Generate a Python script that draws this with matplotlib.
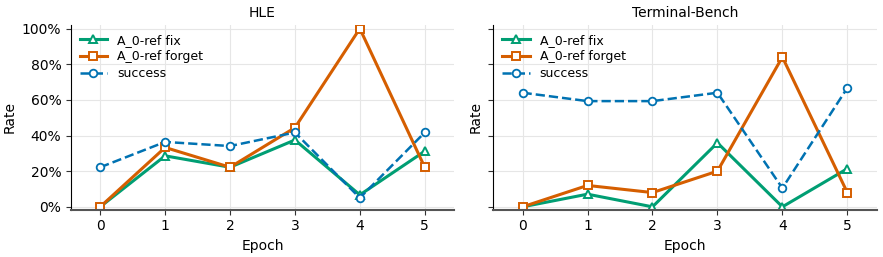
import matplotlib
matplotlib.use("Agg")
import matplotlib.pyplot as plt
from matplotlib.ticker import PercentFormatter

epochs = [0, 1, 2, 3, 4, 5]

hle_fix = [0.0, 28.6, 22.2, 37.5, 6.7, 31.2]
hle_forget = [0.0, 33.3, 22.2, 44.4, 100.0, 22.2]
hle_success = [22.2, 36.4, 34.1, 41.7, 5.0, 41.7]

tb_fix = [0.0, 7.1, 0.0, 35.9, 0.0, 21.4]
tb_forget = [0.0, 12.0, 8.0, 20.0, 84.0, 8.0]
tb_success = [64.0, 59.3, 59.3, 64.0, 10.5, 66.7]

titles = ["HLE", "Terminal-Bench"]
green = "#009E73"
orange = "#D55E00"
blue = "#0072B2"

plt.rcParams['font.family'] = 'DejaVu Sans'
fig = plt.figure(figsize=(8.83, 2.57), dpi=100)
ax1 = fig.add_axes([0.0804, 0.1848, 0.4337, 0.718])
ax2 = fig.add_axes([0.5587, 0.1848, 0.4340, 0.718], sharey=ax1)

panels = [(ax1, hle_fix, hle_forget, hle_success),
          (ax2, tb_fix, tb_forget, tb_success)]

for i, (ax, fix, forget, success) in enumerate(panels):
    ax.plot(epochs, [v / 100 for v in fix], color=green, lw=2.2, marker='^',
            ms=6, mfc='white', mew=1.4, label='A_0-ref fix')
    ax.plot(epochs, [v / 100 for v in forget], color=orange, lw=2.2, marker='s',
            ms=6, mfc='white', mew=1.4, label='A_0-ref forget')
    ax.plot(epochs, [v / 100 for v in success], color=blue, lw=1.8, ls='--',
            marker='o', ms=5.5, mfc='white', mew=1.3, label='success')
    ax.set_title(titles[i], fontsize=10)
    ax.set_xlabel('Epoch', fontsize=10)
    ax.set_ylabel('Rate', fontsize=10)
    ax.set_xlim(-0.45, 5.45)
    ax.set_ylim(-0.015, 1.02)
    ax.set_xticks(epochs)
    ax.set_yticks([0, 0.2, 0.4, 0.6, 0.8, 1.0])
    ax.yaxis.set_major_formatter(PercentFormatter(1.0, decimals=0))
    ax.grid(True, color='#e6e6e6', lw=0.8)
    ax.set_axisbelow(True)
    ax.spines['top'].set_visible(False)
    ax.spines['right'].set_visible(False)
    ax.spines['bottom'].set_color('#555555')
    ax.spines['bottom'].set_linewidth(1.5)
    ax.tick_params(labelsize=10, color='#333333')
    ax.legend(loc='upper left', frameon=False, fontsize=9, handlelength=2.2,
              borderaxespad=0.3, labelspacing=0.3)

ax2.tick_params(labelleft=False)

fig.savefig('out.png', dpi=100)
